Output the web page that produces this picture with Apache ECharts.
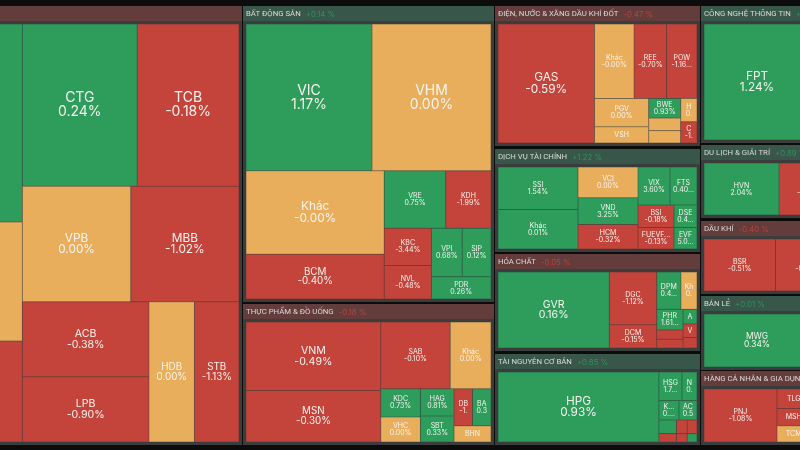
<!DOCTYPE html>
<html>
<head>
<meta charset="utf-8">
<style>html,body{margin:0;background:#0c0c0c}#main{width:800px;height:450px}</style>
<script src="https://cdn.jsdelivr.net/npm/echarts@6/dist/echarts.min.js"></script>
</head>
<body>
<div id="main"></div>
<script>
// each stock: [ticker, % change, weight, text shown when the reference cuts it off or hides it]
const banks = [['', 0.5, 41580], ['', 0, 24990], ['', -0.5, 21210],
  ['CTG', 0.24, 18515], ['TCB', -0.18, 16422], ['VPB', 0, 12420], ['MBB', -1.02, 12410],
  ['ACB', -0.38, 9450], ['LPB', -0.9, 8190], ['HDB', 0, 6345], ['STB', -1.13, 6204]];
const realEstate = [['VIC', 1.17, 18144], ['VHM', 0, 17136], ['Khác', -0.001, 11340, '-0.00%'], ['BCM', -0.4, 6075],
  ['VRE', 0.75, 3480], ['KDH', -1.99, 2560], ['KBC', -3.44, 1720], ['NVL', -0.48, 1551],
  ['VPI', 0.68, 1470], ['SIP', 0.12, 1372], ['PDR', 0.26, 1298]];
const food = [['VNM', -0.49, 9044], ['MSN', -0.3, 6783], ['SAB', -0.1, 4550], ['Khác', 0, 2665],
  ['KDC', 0.73, 1092], ['VHC', 0, 975], ['HAG', 0.81, 891], ['SBT', 0.33, 858],
  ['DB', -1.1, 667, '-1.'], ['BA', 0.3, 666, '0.3'], ['BHN', 0, 592, '']];
const power = [['GAS', -0.59, 11100], ['Khác', -0.001, 2847, '-0.00%'], ['REE', -0.7, 2336], ['POW', -1.16, 2190, '-1.16...'],
  ['PGV', 0, 1484], ['VSH', 0, 848, ''], ['BWE', 0.93, 608], ['', 0, 385], ['', 0, 384],
  ['H', 0, 368, '0.'], ['C', -1, 336, '-1.']];
const finance = [['SSI', 1.54, 3318], ['Khác', 0.01, 3081], ['VCI', 0, 1800], ['VND', 3.25, 1560], ['HCM', -0.32, 1440],
  ['VIX', 3.6, 1184], ['FTS', 0.4, 999, '0.40...'], ['BSI', -0.18, 792], ['FUEVF...', -0.13, 756],
  ['DSE', 0.4, 506, '0.4...'], ['EVF', 5, 483, '5.0...']];
const chemicals = [['GVR', 0.16, 8100], ['DGC', -1.12, 2392], ['DCM', -0.15, 1058], ['DPM', 0.4, 864, '0.4...'],
  ['Kh', 0, 576, '0.'], ['PHR', 1.61, 520, '1.61...'], ['', -0.5, 234], ['', -0.5, 221],
  ['A', 0.5, 196, ''], ['V', -0.5, 182, ''], ['', -0.5, 140]];
const resources = [['HPG', 0.93, 11000], ['HSG', 1.7, 644, '1.7...'], ['N', 0.5, 420, '0.'], ['K...', 0.5, 380, '0....'],
  ['AC', 0.5, 342, '0.5'], ['', 0.5, 234], ['', -0.5, 144], ['', -0.5, 143], ['', -0.5, 130], ['', -0.5, 88], ['', 0.5, 80]];
const tech = [['FPT', 1.24, 12296], ['', 0.5, 3480]];
const travel = [['HVN', 2.04, 3900], ['', -0.5, 3172, '-0.50%']];
const oil = [['BSR', -0.51, 3692], ['', -0.3, 3328, '-0.30%']];
const retail = [['MWG', 0.34, 5618], ['', 0.5, 1590]];
const goods = [['PNJ', -1.08, 3816], ['TLG', -0.5, 640, ''], ['MSH', -0.5, 570, ''], ['TCM', 0, 535, ''], ['', 0, 530], ['', 0, 520], ['', 0, 500]];

const sectorNames = ['', 'BẤT ĐỘNG SẢN', 'THỰC PHẨM & ĐỒ UỐNG', 'ĐIỆN, NƯỚC & XĂNG DẦU KHÍ ĐỐT', 'DỊCH VỤ TÀI CHÍNH', 'HÓA CHẤT',
  'TÀI NGUYÊN CƠ BẢN', 'CÔNG NGHỆ THÔNG TIN', 'DU LỊCH & GIẢI TRÍ', 'DẦU KHÍ', 'BÁN LẺ', 'HÀNG CÁ NHÂN & GIA DỤNG'];
const sectorChanges = [-0.2, 0.14, -0.18, -0.47, 1.22, -0.05, 0.85, 0.3, 0.89, -0.4, 0.01, -0.3];
const sectorStocks = [banks, realEstate, food, power, finance, chemicals, resources, tech, travel, oil, retail, goods];

// left, top, width, height of each sector box
const boxes = [[-192, 6, 434, 439], [243, 6, 251, 296], [243, 304, 251, 141], [495, 6, 205, 140], [495, 149, 205, 103],
  [495, 254, 205, 97], [495, 354, 205, 91], [701, 6, 142, 137], [701, 145, 142, 73], [701, 221, 142, 73], [701, 296, 142, 74], [701, 371, 142, 74]];

// cell weight -> label font size
const fontStops = [[16000, 14], [11000, 11.8], [8000, 10.6], [5800, 9.8], [5000, 8.4], [0, 7]];

const GREEN = '#2e9d5c', RED = '#c4443b', YELLOW = '#e9ae5c';
const FRAME = '#3a3d3c';

function tone(change) {
  if (change > 0.005) return GREEN;
  if (change < -0.005) return RED;
  return YELLOW;
}

function stockNode(s) {
  const color = tone(s[1]);
  const size = fontStops.find(f => s[2] >= f[0])[1];
  const shown = s[3] !== undefined ? s[3] : (s[0] ? s[1].toFixed(2) + '%' : '');
  return {
    name: s[0],
    value: s[2],
    itemStyle: {
      color: color,
      borderWidth: 0.5,
      borderColor: color === GREEN ? '#2c6b4c' : color === RED ? '#843c37' : '#8f7752'
    },
    label: {
      fontSize: size,
      lineHeight: size,
      // treemap drops lines taller than the cell, the negative padding keeps them
      padding: [-20, 0, -20, 0],
      formatter: s[0] + (shown ? '\n' + shown : '')
    }
  };
}

function sectorSeries(i) {
  const change = sectorChanges[i];
  const up = change >= 0;
  return {
    type: 'treemap',
    left: boxes[i][0],
    top: boxes[i][1],
    width: boxes[i][2],
    height: boxes[i][3],
    roam: false,
    nodeClick: false,
    silent: true,
    animation: false,
    visibleMin: 0,
    breadcrumb: { show: false },
    label: { show: true, position: 'inside', color: '#f6f3ef', fontFamily: 'Inter', align: 'center', verticalAlign: 'middle', overflow: 'none' },
    data: [{
      name: sectorNames[i],
      itemStyle: { borderWidth: 0, borderColor: up ? '#38574a' : '#633c3c', gapWidth: 0 },
      upperLabel: {
        show: true,
        height: 15,
        position: [3, '55%'],
        formatter: '{t|' + sectorNames[i] + '}{v|' + (up ? '+' : '') + change.toFixed(2) + ' %}',
        rich: {
          t: { fontFamily: 'Roboto', fontSize: 7.8, lineHeight: 15, color: '#dcdcd8' },
          v: { fontFamily: 'Inter', fontSize: 7.8, lineHeight: 15, color: up ? '#2f9259' : '#b8433b', padding: [0, 0, 0, 5] }
        }
      },
      children: [{
        name: '',
        itemStyle: { borderWidth: 3, borderColor: FRAME, gapWidth: 0 },
        children: sectorStocks[i].map(stockNode)
      }]
    }]
  };
}

const chart = echarts.init(document.getElementById('main'));
chart.setOption({
  backgroundColor: '#0c0c0c',
  series: sectorStocks.map((s, i) => sectorSeries(i))
});
</script>
</body>
</html>
